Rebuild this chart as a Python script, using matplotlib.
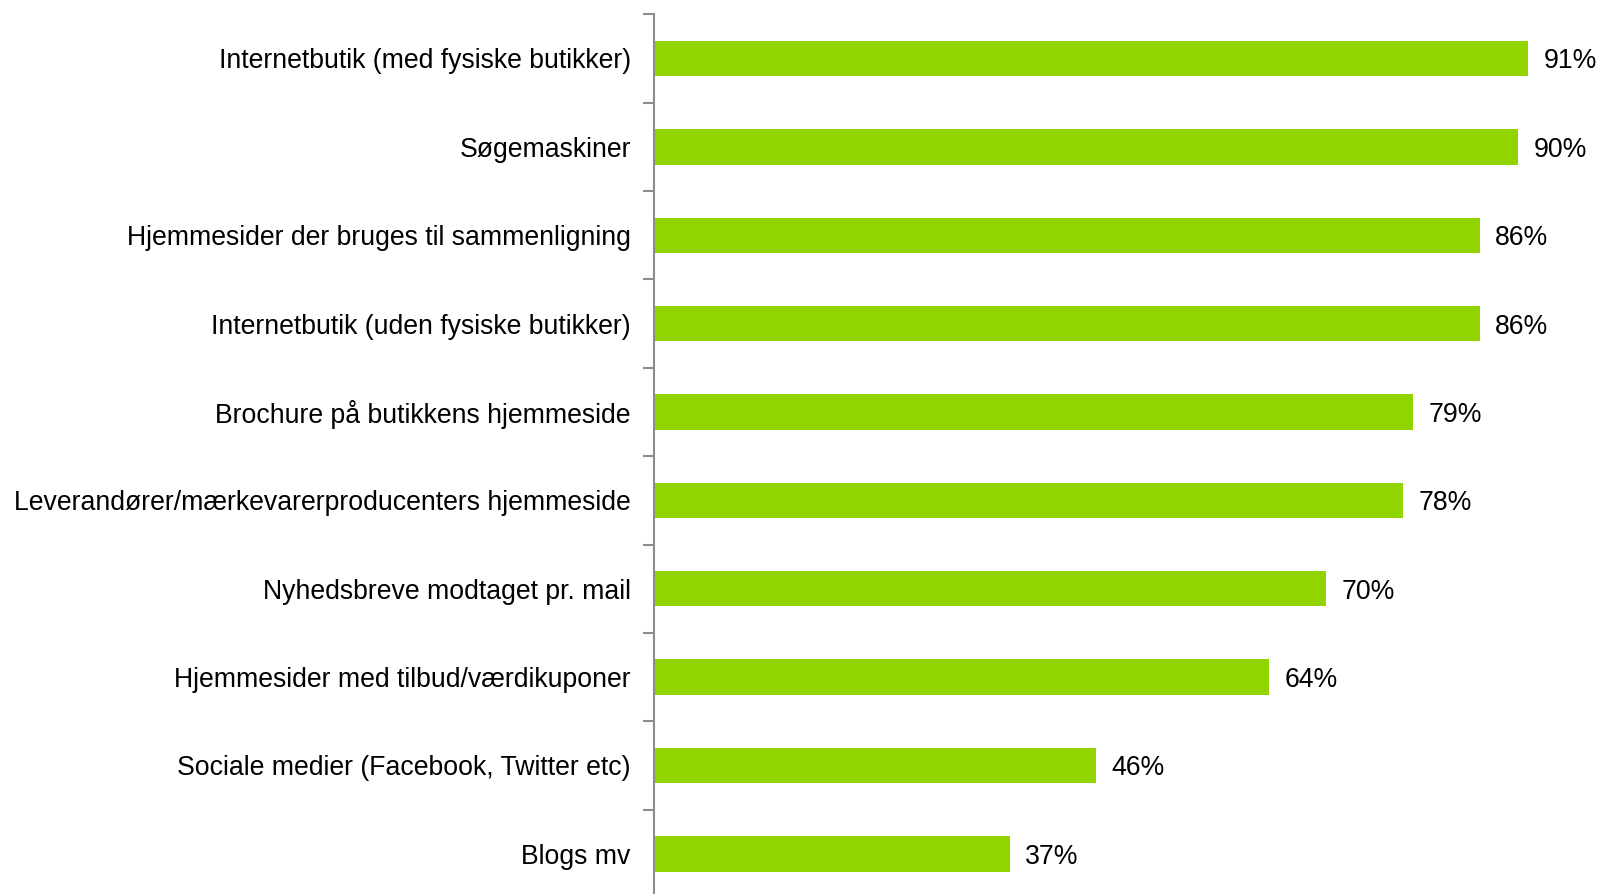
import matplotlib.pyplot as plt
import numpy as np

plt.rcParams['font.family'] = ['Liberation Sans', 'DejaVu Sans']

kilder = [
    'Internetbutik (med fysiske butikker)',
    'Søgemaskiner',
    'Hjemmesider der bruges til sammenligning',
    'Internetbutik (uden fysiske butikker)',
    'Brochure på butikkens hjemmeside',
    'Leverandører/mærkevarerproducenters hjemmeside',
    'Nyhedsbreve modtaget pr. mail',
    'Hjemmesider med tilbud/værdikuponer',
    'Sociale medier (Facebook, Twitter etc)',
    'Blogs mv',
]
andel = [91, 90, 86, 86, 79, 78, 70, 64, 46, 37]

fig = plt.figure(figsize=(16, 8.94), dpi=100)
ax = fig.add_axes([0.409, -0.0045, 0.591, 0.9885])

y = np.arange(len(kilder))
ax.barh(y, andel, height=0.4, color='#92D400')
ax.set_ylim(len(kilder) - 0.5, -0.5)
ax.set_xlim(0, 98.5)

# procentsatser til højre for hver bjælke
for yi, v in zip(y, andel):
    ax.text(v + 1.6, yi, f'{v}%', va='center_baseline', ha='left', fontsize=19.2, color='black')

ax.set_yticks(y)
ax.set_yticklabels(kilder, fontsize=19.2)
ax.tick_params(axis='y', which='major', length=0, pad=17)
ax.set_yticks(np.arange(len(kilder) + 1) - 0.5, minor=True)
ax.tick_params(axis='y', which='minor', length=8, width=1.5, color='#8c8c8c')
ax.set_xticks([])

for s in ['top', 'right', 'bottom']:
    ax.spines[s].set_visible(False)
ax.spines['left'].set_color('#8c8c8c')
ax.spines['left'].set_linewidth(1.5)

fig.savefig('out.png', dpi=100)
